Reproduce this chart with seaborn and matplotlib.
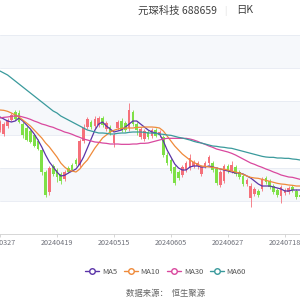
import matplotlib
matplotlib.use("Agg")
import matplotlib.pyplot as plt
from matplotlib.lines import Line2D
import numpy as np
import pandas as pd
import seaborn as sns

# daily K, 80 trading days starting 20240327
open_ = [9.12, 9.00, 9.24, 9.42, 9.66, 9.63, 9.30, 9.18, 9.09, 8.97,
         8.79, 8.52, 7.86, 7.26, 8.04, 7.92, 7.80, 7.65, 7.98, 8.07,
         8.22, 8.07, 8.79, 9.21, 9.36, 9.24, 9.27, 9.48, 9.15, 9.21,
         8.73, 9.18, 9.39, 9.33, 9.18, 9.66, 9.30, 8.91, 8.85, 9.06,
         8.94, 9.12, 8.97, 8.91, 8.37, 8.22, 8.01, 7.86, 7.77, 7.92,
         7.98, 8.04, 8.04, 7.80, 8.04, 8.13, 8.13, 7.95, 7.47, 7.59,
         8.04, 7.89, 8.01, 7.86, 7.74, 7.50, 7.08, 7.20, 7.29, 7.35,
         7.68, 7.59, 7.44, 7.32, 7.14, 7.23, 7.26, 7.41, 7.29, 7.17]
close = [9.36, 9.30, 9.42, 9.57, 9.45, 9.36, 8.97, 8.82, 8.76, 8.64,
         8.55, 7.86, 7.17, 7.98, 7.80, 7.71, 7.59, 7.86, 7.86, 7.92,
         8.10, 8.79, 9.18, 9.45, 9.21, 9.45, 9.48, 9.27, 9.33, 9.03,
         8.97, 9.36, 9.12, 9.12, 9.72, 9.30, 9.12, 9.15, 9.09, 8.91,
         9.12, 8.94, 9.06, 8.37, 8.13, 7.89, 7.53, 7.68, 8.01, 8.13,
         8.28, 8.16, 8.13, 8.01, 8.13, 8.31, 7.92, 7.53, 7.86, 8.04,
         7.89, 8.07, 7.80, 7.71, 7.50, 7.62, 7.44, 7.35, 7.17, 7.65,
         7.56, 7.41, 7.26, 7.17, 7.41, 7.32, 7.38, 7.32, 7.11, 7.11]
high = [9.42, 9.36, 9.48, 9.63, 9.72, 9.72, 9.36, 9.24, 9.15, 9.00,
        8.85, 8.58, 7.92, 8.04, 8.10, 7.98, 7.86, 7.92, 8.04, 8.13,
        8.28, 8.85, 9.30, 9.51, 9.42, 9.54, 9.54, 9.54, 9.39, 9.27,
        9.03, 9.42, 9.48, 9.39, 9.93, 9.72, 9.36, 9.21, 9.15, 9.12,
        9.18, 9.18, 9.12, 8.97, 8.46, 8.28, 8.07, 7.92, 8.07, 8.19,
        8.40, 8.22, 8.19, 8.07, 8.19, 8.37, 8.19, 8.01, 7.92, 8.10,
        8.10, 8.19, 8.07, 7.92, 7.80, 7.68, 7.53, 7.41, 7.35, 7.71,
        7.74, 7.65, 7.50, 7.38, 7.47, 7.38, 7.44, 7.47, 7.35, 7.23]
low = [9.06, 8.94, 9.18, 9.39, 9.42, 9.33, 8.88, 8.79, 8.73, 8.61,
       8.52, 7.77, 7.11, 7.17, 7.74, 7.56, 7.50, 7.59, 7.83, 7.89,
       8.04, 8.01, 8.73, 9.15, 9.15, 9.18, 9.21, 9.21, 9.09, 8.97,
       8.61, 9.12, 9.06, 9.06, 9.09, 9.24, 8.97, 8.85, 8.79, 8.85,
       8.88, 8.91, 8.91, 8.31, 8.07, 7.83, 7.47, 7.62, 7.71, 7.86,
       7.92, 7.98, 7.95, 7.74, 7.98, 8.07, 7.86, 7.47, 7.41, 7.53,
       7.83, 7.83, 7.74, 7.65, 7.44, 7.44, 6.81, 7.14, 7.11, 7.29,
       7.50, 7.35, 7.20, 7.11, 6.93, 7.17, 7.20, 7.26, 7.05, 7.05]

ma5 = [9.51, 9.45, 9.39, 9.36, 9.39, 9.48, 9.39, 9.27, 9.15, 9.00,
       8.82, 8.61, 8.37, 8.16, 8.01, 7.86, 7.74, 7.76, 7.83, 7.89,
       7.95, 8.10, 8.31, 8.58, 8.85, 9.12, 9.30, 9.36, 9.24, 9.15,
       9.06, 9.09, 9.12, 9.21, 9.30, 9.39, 9.39, 9.30, 9.21, 9.12,
       9.06, 9.03, 9.00, 8.79, 8.52, 8.31, 8.10, 7.98, 7.92, 7.92,
       8.01, 8.04, 8.04, 8.01, 8.01, 8.04, 8.01, 7.98, 7.95, 7.92,
       7.89, 7.86, 7.83, 7.83, 7.80, 7.74, 7.68, 7.59, 7.50, 7.44,
       7.44, 7.44, 7.41, 7.38, 7.35, 7.29, 7.29, 7.32, 7.32, 7.32]
ma10 = [9.72, 9.71, 9.68, 9.63, 9.57, 9.51, 9.42, 9.33, 9.24, 9.12,
        9.00, 8.88, 8.73, 8.61, 8.46, 8.31, 8.13, 8.01, 7.92, 7.89,
        7.86, 7.95, 8.10, 8.22, 8.40, 8.58, 8.73, 8.88, 8.97, 9.06,
        9.11, 9.15, 9.17, 9.18, 9.18, 9.18, 9.20, 9.20, 9.21, 9.21,
        9.21, 9.20, 9.18, 9.09, 8.94, 8.79, 8.64, 8.52, 8.40, 8.31,
        8.22, 8.15, 8.09, 8.04, 8.03, 8.01, 8.00, 7.98, 7.95, 7.94,
        7.92, 7.89, 7.86, 7.83, 7.79, 7.74, 7.70, 7.68, 7.67, 7.64,
        7.61, 7.58, 7.55, 7.52, 7.50, 7.49, 7.47, 7.46, 7.44, 7.44]
ma30 = [9.48, 9.50, 9.51, 9.53, 9.54, 9.54, 9.51, 9.48, 9.44, 9.39,
        9.35, 9.30, 9.27, 9.23, 9.20, 9.15, 9.11, 9.06, 9.03, 8.99,
        8.94, 8.90, 8.85, 8.82, 8.79, 8.76, 8.75, 8.73, 8.72, 8.70,
        8.70, 8.70, 8.69, 8.69, 8.69, 8.70, 8.70, 8.72, 8.72, 8.73,
        8.76, 8.79, 8.82, 8.85, 8.87, 8.87, 8.87, 8.87, 8.87, 8.87,
        8.85, 8.82, 8.78, 8.73, 8.69, 8.64, 8.60, 8.55, 8.52, 8.49,
        8.46, 8.42, 8.37, 8.31, 8.25, 8.19, 8.13, 8.09, 8.04, 8.00,
        7.95, 7.91, 7.86, 7.82, 7.77, 7.74, 7.71, 7.70, 7.67, 7.64]
ma60 = [10.89, 10.83, 10.77, 10.68, 10.59, 10.50, 10.41, 10.32, 10.23, 10.14,
        10.05, 9.96, 9.87, 9.78, 9.69, 9.63, 9.54, 9.48, 9.42, 9.36,
        9.30, 9.24, 9.18, 9.12, 9.09, 9.06, 9.03, 9.03, 9.02, 9.00,
        9.00, 9.02, 9.03, 9.03, 9.05, 9.06, 9.06, 9.06, 9.05, 9.03,
        9.03, 9.02, 9.00, 8.99, 8.97, 8.96, 8.93, 8.90, 8.88, 8.85,
        8.82, 8.78, 8.75, 8.73, 8.70, 8.67, 8.64, 8.63, 8.61, 8.60,
        8.58, 8.57, 8.54, 8.51, 8.48, 8.45, 8.42, 8.39, 8.36, 8.33,
        8.31, 8.30, 8.30, 8.28, 8.28, 8.27, 8.27, 8.25, 8.24, 8.22]

tick_days = [0, 15, 30, 45, 60, 75]
tick_labels = ["20240327", "20240419", "20240515", "20240605", "20240627", "20240718"]
ma_names = ["MA5", "MA10", "MA30", "MA60"]
ma_colors = ["#5b34a8", "#ef8a3a", "#d9489e", "#3a9a9c"]

title = "元琛科技 688659"
period = "日K"
source = "数据来源：  恒生聚源"

sns.set_theme(style="white")
plt.rcParams["font.family"] = ["Noto Sans CJK SC", "DejaVu Sans"]

fig = plt.figure(figsize=(3, 3), dpi=100)
ax = fig.add_axes([0, 0.22, 1, 0.6633])

days = np.arange(len(close))
o = np.array(open_)
c = np.array(close)

# alternating split areas + split lines
edges = np.linspace(6, 11.97, 7)
for k in range(6):
    if k % 2 == 1:
        ax.axhspan(edges[k], edges[k + 1], color="#f6f8fb", lw=0, zorder=0)
for e in edges[1:]:
    ax.axhline(e, color="#e6eaf2", lw=0.6, zorder=0.5)

# candles
cols = np.where(c >= o, "#f5707a", "#7ee046")
ax.vlines(days, low, high, colors=cols, lw=0.6, zorder=2)
ax.bar(days, np.maximum(np.abs(c - o), 0.012), bottom=np.minimum(o, c),
       width=0.7, color=cols, linewidth=0, zorder=3)

# moving averages
ma_df = pd.DataFrame({"day": days, "MA5": ma5, "MA10": ma10, "MA30": ma30, "MA60": ma60})
ma_long = ma_df.melt(id_vars="day", var_name="ma", value_name="value")
sns.lineplot(data=ma_long, x="day", y="value", hue="ma", hue_order=ma_names,
             palette=ma_colors, lw=0.9, legend=False, ax=ax, zorder=4)

ax.set_xlim(0.653, 78.98)
ax.set_ylim(6, 11.97)
ax.set_xlabel("")
ax.set_ylabel("")
ax.set_yticks([])
ax.set_xticks(tick_days)
ax.set_xticklabels(tick_labels)
ax.tick_params(axis="x", bottom=True, length=2.2, width=0.6, color="#d0d0d0",
               pad=1.5, labelsize=5.2, labelcolor="#6e7079")
for s in ["top", "left", "right"]:
    ax.spines[s].set_visible(False)
ax.spines["bottom"].set_color("#d0d0d0")
ax.spines["bottom"].set_linewidth(0.6)

# title
fig.text(0.46, 0.965, title, fontsize=7.5, color="#404040", va="center", ha="left")
fig.text(0.752, 0.965, "|", fontsize=6, color="#d8d8d8", va="center", ha="center")
fig.text(0.787, 0.965, period, fontsize=7.5, color="#404040", va="center", ha="left")

# legend
handles = [Line2D([0], [0], color=col, lw=1.0, marker="o", markersize=4.0,
                  markerfacecolor="white", markeredgecolor=col, markeredgewidth=1.0)
           for col in ma_colors]
leg = fig.legend(handles, ma_names, ncol=4, loc="center", bbox_to_anchor=(0.552, 0.093),
                 frameon=False, fontsize=5.5, handlelength=1.8, handletextpad=0.4,
                 columnspacing=0.9)
for t in leg.get_texts():
    t.set_color("#555555")

fig.text(0.552, 0.023, source, fontsize=6, color="#666666", ha="center", va="center")

fig.savefig("out.png", dpi=100)
